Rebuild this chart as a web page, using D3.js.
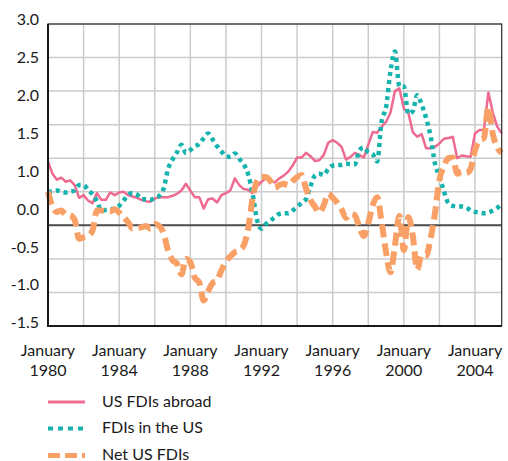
<!DOCTYPE html>
<html lang="en">
<head>
<meta charset="utf-8">
<title>US FDI flows</title>
<script src="https://d3js.org/d3.v7.min.js"></script>
<style>
  body { margin: 0; background: #fff; }
  text { font-family: Lato, "Open Sans", sans-serif; fill: #1a1a1a; }
</style>
</head>
<body>
<script>
// quarterly data, first value = January 1980
var startYear = 1980;

var usAbroad = [
  0.95, 0.77, 0.68, 0.71,
  0.65, 0.67, 0.60, 0.41,
  0.45, 0.37, 0.33, 0.48,
  0.38, 0.38, 0.49, 0.45,
  0.49, 0.50, 0.45, 0.43,
  0.41, 0.38, 0.36, 0.35,
  0.40, 0.42, 0.42, 0.42,
  0.44, 0.47, 0.52, 0.62,
  0.52, 0.42, 0.42, 0.25,
  0.39, 0.40, 0.34, 0.45,
  0.48, 0.52, 0.70, 0.60,
  0.54, 0.53, 0.48, 0.58,
  0.65, 0.70, 0.67, 0.64,
  0.70, 0.74, 0.80, 0.89,
  1.01, 1.01, 1.08, 1.03,
  0.96, 0.97, 1.05, 1.23,
  1.27, 1.23, 1.17, 0.98,
  1.02, 1.08, 1.05, 1.01,
  1.20, 1.39, 1.38, 1.47,
  1.54, 1.68, 2.00, 2.04,
  1.74, 1.68, 1.39, 1.32,
  1.36, 1.15, 1.15, 1.17,
  1.22, 1.29, 1.30, 1.32,
  1.00, 1.04, 1.03, 1.02,
  1.37, 1.42, 1.42, 1.98,
  1.68, 1.47, 1.37
];

var inUS = [
  0.49, 0.51, 0.52, 0.50,
  0.49, 0.50, 0.52, 0.60,
  0.60, 0.53, 0.46, 0.36,
  0.22, 0.23, 0.24, 0.25,
  0.29, 0.37, 0.45, 0.48,
  0.46, 0.39, 0.39, 0.38,
  0.41, 0.44, 0.55, 0.84,
  0.98, 1.09, 1.20, 1.08,
  1.12, 1.18, 1.21, 1.30,
  1.37, 1.28, 1.18, 1.10,
  1.03, 1.02, 1.07, 0.99,
  0.91, 0.76, 0.47, 0.08,
  -0.05, 0.02, 0.07, 0.12,
  0.17, 0.18, 0.18, 0.22,
  0.28, 0.33, 0.39, 0.58,
  0.74, 0.77, 0.75, 0.84,
  0.89, 0.90, 0.90, 0.92,
  0.91, 0.91, 1.12, 1.16,
  1.09, 1.06, 0.95, 1.55,
  1.76, 2.30, 2.59, 2.07,
  2.07, 1.66, 1.70, 1.94,
  1.80, 1.60, 1.33, 0.92,
  0.73, 0.51, 0.33, 0.29,
  0.28, 0.28, 0.27, 0.22,
  0.20, 0.19, 0.18, 0.19,
  0.22, 0.26, 0.32
];

var netUS = [
  0.50, 0.28, 0.20, 0.22,
  0.16, 0.15, 0.08, -0.20,
  -0.18, -0.16, -0.08, 0.22,
  0.22, 0.21, 0.21, 0.24,
  0.19, 0.12, 0.05, -0.05,
  -0.04, -0.03, -0.01, -0.05,
  0.02, -0.01, -0.12, -0.38,
  -0.52, -0.57, -0.73, -0.50,
  -0.55, -0.78, -0.85, -1.12,
  -0.98, -0.86, -0.82, -0.67,
  -0.54, -0.46, -0.40, -0.37,
  -0.30, -0.05, 0.40, 0.66,
  0.72, 0.72, 0.66, 0.56,
  0.60, 0.62, 0.60, 0.66,
  0.72, 0.75, 0.55, 0.38,
  0.28, 0.19, 0.30, 0.47,
  0.41, 0.34, 0.24, 0.11,
  0.17, 0.15, -0.03, -0.16,
  0.03, 0.30, 0.42, 0.05,
  -0.40, -0.70, -0.30, 0.14,
  -0.37, 0.12, -0.15, -0.66,
  -0.44, -0.45, -0.20, 0.18,
  0.68, 0.88, 1.00, 1.01,
  0.77, 0.80, 0.78, 0.84,
  1.12, 1.26, 1.30, 1.76,
  1.36, 1.16, 1.08
];

var yTickLabels = ["3.0", "2.5", "2.0", "1.5", "1.0", "0.0", "-0.5", "-1.0", "-1.5"];
var xTickYears = [1980, 1984, 1988, 1992, 1996, 2000, 2004];
var seriesNames = ["US FDIs abroad", "FDIs in the US", "Net US FDIs"];

var width = 508, height = 461;
var pLeft = 48, pTop = 24, pRight = 501.7, pBottom = 326;

var svg = d3.select("body").append("svg")
    .attr("width", width)
    .attr("height", height);

var x = d3.scaleLinear().domain([1980, 2005.5]).range([pLeft, pRight]);
var y = d3.scaleLinear().domain([-1.5, 3.0]).range([pBottom, pTop]);
var yLab = d3.scalePoint().domain(yTickLabels).range([19.5, 322.5]);

// grid
svg.append("g").selectAll("line")
    .data(d3.range(-1.5, 3.01, 0.5))
    .enter().append("line")
    .attr("x1", pLeft).attr("x2", pRight)
    .attr("y1", function (d) { return y(d); })
    .attr("y2", function (d) { return y(d); })
    .attr("stroke", "#cbcbcb")
    .attr("stroke-width", 1.5);

svg.append("g").selectAll("line")
    .data(d3.range(1982, 2005, 2))
    .enter().append("line")
    .attr("x1", function (d) { return x(d); })
    .attr("x2", function (d) { return x(d); })
    .attr("y1", pTop).attr("y2", pBottom)
    .attr("stroke", "#cbcbcb")
    .attr("stroke-width", 1.5);

// zero line
svg.append("line")
    .attr("x1", pLeft).attr("x2", pRight)
    .attr("y1", y(0)).attr("y2", y(0))
    .attr("stroke", "#4d4d4d")
    .attr("stroke-width", 2);

// lines
var styles = [
  { data: usAbroad, color: "#ef6a90", width: 2.5, dash: null, curve: d3.curveLinear },
  { data: inUS, color: "#16b3ae", width: 4.5, dash: "4,4", curve: d3.curveMonotoneX },
  { data: netUS, color: "#f9a066", width: 6, dash: "13,6", curve: d3.curveMonotoneX }
];

styles.forEach(function (s) {
    var line = d3.line()
        .x(function (d, i) { return x(startYear + i / 4); })
        .y(function (d) { return y(d); })
        .curve(s.curve);
    svg.append("path")
        .datum(s.data)
        .attr("d", line)
        .attr("fill", "none")
        .attr("stroke", s.color)
        .attr("stroke-width", s.width)
        .attr("stroke-dasharray", s.dash)
        .attr("stroke-linejoin", "round");
});

// frame
svg.append("rect")
    .attr("x", pLeft).attr("y", pTop)
    .attr("width", pRight - pLeft).attr("height", pBottom - pTop)
    .attr("fill", "none")
    .attr("stroke", "#2a2a2a")
    .attr("stroke-width", 1.2);
svg.append("path")
    .attr("d", "M" + pLeft + "," + pTop + "V" + pBottom + "H" + pRight)
    .attr("fill", "none")
    .attr("stroke", "#1a1a1a")
    .attr("stroke-width", 2);

// y labels
svg.append("g").selectAll("text")
    .data(yTickLabels)
    .enter().append("text")
    .attr("x", 39)
    .attr("y", function (d) { return yLab(d); })
    .attr("dy", "0.36em")
    .attr("text-anchor", "end")
    .attr("font-size", 16)
    .text(function (d) { return d; });

// x labels
var xl = svg.append("g").selectAll("text")
    .data(xTickYears)
    .enter().append("text")
    .attr("text-anchor", "middle")
    .attr("font-size", 16);
xl.append("tspan")
    .attr("x", function (d) { return x(d); })
    .attr("y", 356)
    .text("January");
xl.append("tspan")
    .attr("x", function (d) { return x(d); })
    .attr("y", 376)
    .text(function (d) { return d; });

// legend
var legendY = [402, 428.5, 455.5];
var lg = svg.append("g").selectAll("g")
    .data(seriesNames)
    .enter().append("g");
lg.append("line")
    .attr("x1", 48).attr("x2", 85)
    .attr("y1", function (d, i) { return legendY[i]; })
    .attr("y2", function (d, i) { return legendY[i]; })
    .attr("stroke", function (d, i) { return styles[i].color; })
    .attr("stroke-width", function (d, i) { return i == 0 ? 3 : (i == 1 ? 4 : 5); })
    .attr("stroke-dasharray", function (d, i) { return i == 0 ? null : (i == 1 ? "5,5" : "12,5"); });
lg.append("text")
    .attr("x", 102)
    .attr("y", function (d, i) { return legendY[i] + 4.5; })
    .attr("font-size", 16)
    .text(function (d) { return d; });
</script>
</body>
</html>
